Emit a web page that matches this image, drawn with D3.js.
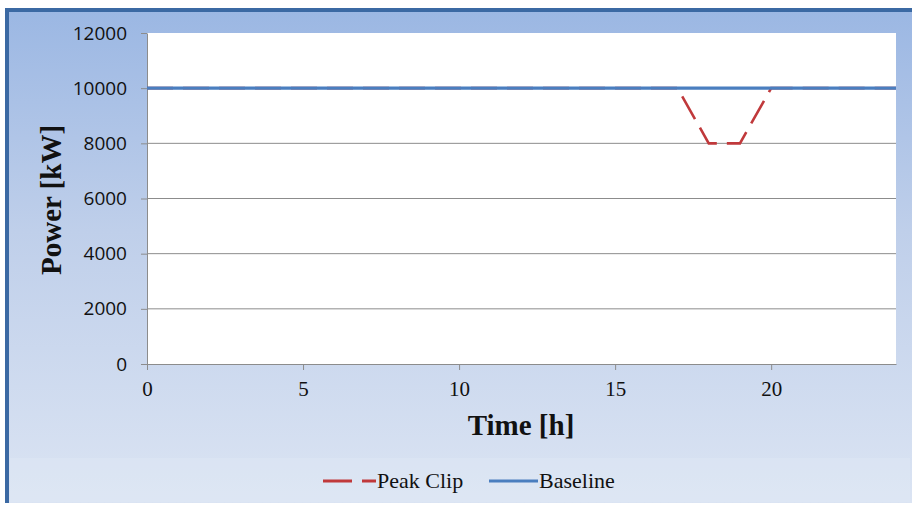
<!DOCTYPE html>
<html>
<head>
<meta charset="utf-8">
<script src="https://cdn.jsdelivr.net/npm/d3@7"></script>
<style>
  html, body { margin: 0; padding: 0; background: #fff; }
  svg { display: block; }
</style>
</head>
<body>
<div id="chart"></div>
<script>
// hours 0..24
const hours = d3.range(0, 25);
const peakClip = [10000,10000,10000,10000,10000,10000,10000,10000,10000,10000,10000,10000,
                  10000,10000,10000,10000,10000,10000,8000,8000,10000,10000,10000,10000,10000];
const baseline = [10000,10000,10000,10000,10000,10000,10000,10000,10000,10000,10000,10000,
                  10000,10000,10000,10000,10000,10000,10000,10000,10000,10000,10000,10000,10000];
const yTicks = [0, 2000, 4000, 6000, 8000, 10000, 12000];
const xTicks = [0, 5, 10, 15, 20];
const seriesNames = ["Peak Clip", "Baseline"];

const W = 917, H = 506;
const margin = { top: 33, right: 21, bottom: 142, left: 147 };

const svg = d3.select("#chart").append("svg")
  .attr("width", W)
  .attr("height", H);

const defs = svg.append("defs");
const grad = defs.append("linearGradient")
  .attr("id", "bg").attr("x1", 0).attr("y1", 0).attr("x2", 0).attr("y2", 1);
grad.append("stop").attr("offset", "0%").attr("stop-color", "#9bb7e3");
grad.append("stop").attr("offset", "45%").attr("stop-color", "#bfcfea");
grad.append("stop").attr("offset", "100%").attr("stop-color", "#dbe4f3");

// frame
svg.append("rect")
  .attr("x", 7).attr("y", 9)
  .attr("width", 905).attr("height", 494)
  .attr("fill", "url(#bg)");
svg.append("rect")
  .attr("x", 10).attr("y", 458)
  .attr("width", 900).attr("height", 44)
  .attr("fill", "#e3eaf6").attr("opacity", 0.35);
svg.append("path")
  .attr("d", "M7,503 V10 H912")
  .attr("fill", "none")
  .attr("stroke", "#3b69a3")
  .attr("stroke-width", 4);

const x = d3.scaleLinear().domain([0, 24]).range([margin.left, W - margin.right]);
const y = d3.scaleLinear().domain([0, 12000]).range([H - margin.bottom, margin.top]);

// plot area
svg.append("rect")
  .attr("x", x(0)).attr("y", y(12000))
  .attr("width", x(24) - x(0)).attr("height", y(0) - y(12000))
  .attr("fill", "#fff");

// gridlines
svg.append("g")
  .selectAll("line")
  .data(yTicks.filter(d => d > 0 && d < 12000))
  .join("line")
  .attr("x1", x(0)).attr("x2", x(24))
  .attr("y1", d => y(d)).attr("y2", d => y(d))
  .attr("stroke", "#8c8c8c")
  .attr("stroke-width", 1);

// y axis
const yAxis = svg.append("g")
  .attr("transform", `translate(${x(0)},0)`)
  .call(d3.axisLeft(y).tickValues(yTicks).tickSize(6).tickSizeOuter(0).tickPadding(14).tickFormat(d3.format("d")));
yAxis.select(".domain").attr("stroke", "#8c8c8c");
yAxis.selectAll(".tick line").attr("stroke", "#8c8c8c");
yAxis.selectAll("text")
  .attr("font-family", "'Open Sans', 'Liberation Sans', sans-serif")
  .attr("font-size", 19)
  .attr("fill", "#111");

// x axis
const xAxis = svg.append("g")
  .attr("transform", `translate(0,${y(0)})`)
  .call(d3.axisBottom(x).tickValues(xTicks).tickSize(6).tickSizeOuter(0).tickPadding(11));
xAxis.select(".domain").attr("stroke", "#8c8c8c");
xAxis.selectAll(".tick line").attr("stroke", "#8c8c8c");
xAxis.selectAll("text")
  .attr("font-family", "'Liberation Serif', 'Times New Roman', serif")
  .attr("font-size", 21)
  .attr("fill", "#111");

// axis titles
svg.append("text")
  .attr("x", 521).attr("y", 435)
  .attr("text-anchor", "middle")
  .attr("font-family", "'Liberation Serif', 'Times New Roman', serif")
  .attr("font-weight", "bold")
  .attr("font-size", 29)
  .attr("fill", "#111")
  .text("Time [h]");

svg.append("text")
  .attr("transform", "translate(61,200) rotate(-90)")
  .attr("text-anchor", "middle")
  .attr("font-family", "'Liberation Serif', 'Times New Roman', serif")
  .attr("font-weight", "bold")
  .attr("font-size", 29)
  .attr("fill", "#111")
  .text("Power [kW]");

// lines
const line = d3.line()
  .x((d, i) => x(hours[i]))
  .y(d => y(d));

svg.append("path")
  .datum(peakClip)
  .attr("fill", "none")
  .attr("stroke", "#c0393b")
  .attr("stroke-width", 2.6)
  .attr("stroke-dasharray", "26,10")
  .attr("d", line);

svg.append("path")
  .datum(baseline)
  .attr("fill", "none")
  .attr("stroke", "#4a7ebf")
  .attr("stroke-width", 3.4)
  .attr("d", line);

// legend
const leg = svg.append("g").attr("font-family", "'Liberation Serif', 'Times New Roman', serif")
  .attr("font-size", 22).attr("fill", "#111");

leg.append("line")
  .attr("x1", 323).attr("x2", 376).attr("y1", 481).attr("y2", 481)
  .attr("stroke", "#c0393b").attr("stroke-width", 3)
  .attr("stroke-dasharray", "29,10");
leg.append("text").attr("x", 377).attr("y", 488).text(seriesNames[0]);

leg.append("line")
  .attr("x1", 489).attr("x2", 538).attr("y1", 481).attr("y2", 481)
  .attr("stroke", "#4a7ebf").attr("stroke-width", 3);
leg.append("text").attr("x", 539).attr("y", 488).text(seriesNames[1]);
</script>
</body>
</html>
